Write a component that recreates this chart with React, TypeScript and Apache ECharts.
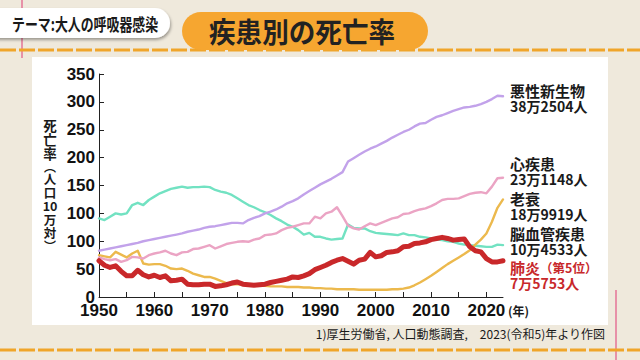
import React, { useEffect, useRef } from "react";
import * as echarts from "echarts";

const startYear = 1950;
const endYear = 2023;
const years: number[] = [];
for (let y = startYear; y <= endYear; y++) years.push(y);

// values are positions on the drawn axis (ticks every 50, labelled by tickLabels)
const cancer = [83, 85, 87, 89, 91, 93, 95, 97, 100, 102, 104, 106, 108, 110, 112, 114, 117, 119, 121, 124, 126, 127, 129, 131, 133, 133, 132, 138, 142, 145, 150, 153, 157, 162, 168, 172, 177, 184, 190, 196, 202, 207, 212, 218, 224, 243, 249, 255, 261, 266, 270, 275, 280, 286, 291, 296, 300, 306, 311, 312, 318, 323, 326, 330, 334, 337, 340, 341, 343, 346, 350, 355, 361, 360];
const heart = [71, 68, 66, 68, 63, 66, 72, 71, 69, 75, 78, 80, 83, 78, 75, 80, 81, 86, 87, 90, 93, 87, 91, 95, 97, 99, 100, 99, 103, 105, 111, 112, 114, 120, 124, 126, 129, 132, 132, 144, 141, 150, 153, 161, 145, 128, 123, 121, 127, 132, 129, 133, 137, 141, 143, 149, 150, 154, 157, 159, 163, 168, 174, 176, 176, 177, 181, 185, 187, 188, 186, 198, 213, 214];
const senility = [75, 73, 71, 81, 76, 71, 78, 83, 60, 58, 59, 59, 56, 51, 50, 51, 47, 42, 39, 36, 36, 33, 29, 25, 23, 23, 22, 21, 20, 20, 20, 19, 19, 19, 18, 18, 18, 17, 17, 16, 16, 15, 15, 14, 14, 14, 14, 13, 13, 13, 13, 13, 13, 14, 14, 15, 17, 21, 26, 32, 38, 45, 52, 59, 65, 71, 77, 84, 94, 103, 114, 135, 160, 175];
const stroke = [141, 138, 144, 150, 148, 150, 165, 169, 165, 174, 180, 186, 190, 194, 196, 198, 196, 197, 197, 198, 197, 192, 189, 187, 183, 177, 171, 165, 161, 156, 152, 147, 141, 136, 130, 126, 120, 112, 115, 108, 108, 105, 103, 104, 105, 130, 124, 123, 123, 118, 115, 114, 113, 112, 111, 114, 111, 111, 108, 107, 105, 103, 102, 100, 99, 96, 94, 93, 92, 91, 90, 90, 94, 93];
const pneumonia = [65, 57, 53, 56, 46, 38, 38, 48, 40, 36, 39, 35, 38, 29, 30, 32, 23, 22, 22, 23, 23, 19, 20, 22, 25, 27, 23, 22, 21, 22, 23, 26, 28, 30, 32, 36, 35, 38, 42, 49, 53, 57, 62, 66, 69, 64, 59, 66, 68, 80, 72, 74, 80, 81, 83, 90, 91, 96, 97, 99, 103, 105, 107, 105, 102, 103, 104, 90, 83, 81, 69, 63, 63, 65];

const tickLabels = ["0", "50", "100", "100", "150", "200", "250", "300", "350"];

const seriesNames = ["悪性新生物", "心疾患", "老衰", "脳血管疾患", "肺炎"];
const deathCounts = ["38万2504人", "23万1148人", "18万9919人", "10万4533人", "7万5753人"];
const rankNote = "（第5位）";

const pair = (vals: number[]) => years.map((y, i) => [y, vals[i]]);

const JP = '"Noto Sans CJK JP", "Noto Sans", sans-serif';
const NUM = '"Liberation Sans", Arial, sans-serif';
const RED = "#c8282b";
const INK = "#1a1a1a";

export default function App() {
  const ref = useRef<HTMLDivElement>(null);
  useEffect(() => {
    if (!ref.current) return;
    const chart = echarts.init(ref.current, null, { renderer: "svg" });
    const txt = (text: string, x: number, y: number, font: string, fill = INK, align = "left", scaleX = 1) => ({
      type: "text",
      x,
      y,
      scaleX,
      style: { text, x: 0, y: 0, font, fill, textAlign: align, textVerticalAlign: "middle", verticalAlign: "middle" },
    });
    const labelRich = {
      n: { fontFamily: JP, fontWeight: "bold", fontSize: 15, lineHeight: 16, fill: INK },
      c: { fontFamily: JP, fontWeight: "bold", fontSize: 14, lineHeight: 15, fill: INK },
      rn: { fontFamily: JP, fontWeight: "bold", fontSize: 15, lineHeight: 16, fill: RED },
      rs: { fontFamily: JP, fontWeight: "bold", fontSize: 12.5, lineHeight: 16, fill: RED },
      rc: { fontFamily: JP, fontWeight: "bold", fontSize: 14, lineHeight: 15, fill: RED },
    };
    const endLabel = (text: string, top: number) => ({
      type: "text",
      x: 510,
      y: top,
      style: { text, x: 0, y: 0, textAlign: "left", textVerticalAlign: "top", verticalAlign: "top", rich: labelRich },
    });
    const yTitleText = [
      "{a|死}", "{a|亡}", "{a|率}", "{p|︵}", "{b|人}", "{b|口}", "{b|10}", "{b|万}", "{b|対}", "{p|︶}",
    ].join("\n");
    const graphic: any[] = [
      // margin lines
      { type: "line", shape: { x1: 22, y1: 0, x2: 22, y2: 58 }, style: { stroke: "#e57b9b", lineWidth: 2, opacity: 0.8 } },
      { type: "line", shape: { x1: 616, y1: 290, x2: 616, y2: 360 }, style: { stroke: "#e57b9b", lineWidth: 2, opacity: 0.8 } },
      // dashed rules
      { type: "line", shape: { x1: 0, y1: 50, x2: 640, y2: 50 }, style: { stroke: "#f0a52a", lineWidth: 3, lineDash: [16, 3] } },
      { type: "line", shape: { x1: 0, y1: 350, x2: 640, y2: 350 }, style: { stroke: "#f0a52a", lineWidth: 3, lineDash: [16, 3] } },
      // theme tag
      {
        type: "rect",
        shape: { x: -10, y: 8, width: 180, height: 30, r: [0, 15, 15, 0] },
        style: { fill: "#ffffff", shadowBlur: 3, shadowOffsetX: 1, shadowOffsetY: 2, shadowColor: "rgba(0,0,0,0.35)" },
      },
      txt("テーマ:大人の呼吸器感染", 12, 23, `bold 17px ${JP}`, INK, "left", 0.76),
      // title pill
      { type: "rect", shape: { x: 182, y: 12, width: 246, height: 38, r: 19 }, style: { fill: "#f6a630" } },
      txt("疾患別の死亡率", 302, 31, `bold 28px ${JP}`, "#222222", "center", 0.95),
      // y-axis title (vertical)
      {
        type: "text",
        x: 50,
        y: 118,
        style: {
          text: yTitleText,
          x: 0,
          y: 0,
          textAlign: "center",
          textVerticalAlign: "top",
          verticalAlign: "top",
          rich: {
            a: { fontFamily: JP, fontWeight: "bold", fontSize: 13.5, lineHeight: 14, fill: INK, align: "center" },
            p: { fontFamily: JP, fontWeight: "bold", fontSize: 12, lineHeight: 12, fill: INK, align: "center" },
            b: { fontFamily: JP, fontWeight: "bold", fontSize: 12.5, lineHeight: 13.5, fill: INK, align: "center" },
          },
        },
      },
      // x unit
      txt("(年)", 508, 310, `bold 12px ${JP}`),
      // end labels
      endLabel(`{n|${seriesNames[0]}}\n{c|${deathCounts[0]}}`, 82.5),
      endLabel(`{n|${seriesNames[1]}}\n{c|${deathCounts[1]}}`, 155.5),
      endLabel(`{n|${seriesNames[2]}}\n{c|${deathCounts[2]}}`, 190.5),
      endLabel(`{n|${seriesNames[3]}}\n{c|${deathCounts[3]}}`, 225.5),
      endLabel(`{rn|${seriesNames[4]}}{rs|${rankNote}}\n{rc|${deathCounts[4]}}`, 259),
      // footnote
      txt("1)厚生労働省, 人口動態調査,　2023(令和5)年より作図", 605, 333, `12px ${JP}`, INK, "right"),
    ];

    const lineSeries = (name: string, vals: number[], color: string, width: number, z: number) => ({
      type: "line",
      name,
      data: pair(vals),
      symbol: "none",
      z,
      lineStyle: { color, width, cap: "round", join: "round" },
    });

    chart.setOption({
      animation: false,
      grid: { left: 99, top: 74, right: 137, bottom: 63 },
      xAxis: {
        type: "value",
        min: startYear,
        max: endYear,
        interval: 5,
        axisLine: { show: true, lineStyle: { color: "#222", width: 1 } },
        axisTick: { show: true, inside: true, length: 5, lineStyle: { color: "#222" } },
        splitLine: { show: false },
        axisLabel: {
          margin: 5,
          fontSize: 17,
          fontWeight: "bold",
          fontFamily: NUM,
          color: "#111",
          showMaxLabel: false,
          formatter: (v: number) => (v % 10 === 0 ? String(v) : ""),
        },
      },
      yAxis: {
        type: "value",
        min: 0,
        max: 400,
        interval: 50,
        axisLine: { show: true, lineStyle: { color: "#222", width: 1 } },
        axisTick: { show: true, inside: true, length: 5, lineStyle: { color: "#222" } },
        splitLine: { show: false },
        axisLabel: {
          margin: 4,
          fontSize: 17,
          fontWeight: "bold",
          fontFamily: NUM,
          color: "#111",
          formatter: (v: number) => tickLabels[Math.round(v / 50)] ?? "",
        },
      },
      series: [
        lineSeries(seriesNames[3], stroke, "#72e2c2", 2.4, 2),
        lineSeries(seriesNames[2], senility, "#ecb94d", 2.4, 3),
        lineSeries(seriesNames[1], heart, "#eba4c4", 2.4, 4),
        lineSeries(seriesNames[0], cancer, "#c2a2ea", 2.4, 5),
        lineSeries(seriesNames[4], pneumonia, "#c9282a", 5, 6),
      ],
      graphic,
    });
    return () => chart.dispose();
  }, []);

  return (
    <div style={{ position: "absolute", left: 0, top: 0, width: 640, height: 360, background: "#efe9dc", overflow: "hidden" }}>
      <div style={{ position: "absolute", left: 32, top: 57, width: 576, height: 268, background: "#ffffff" }} />
      <div ref={ref} style={{ position: "absolute", left: 0, top: 0, width: 640, height: 360 }} />
    </div>
  );
}
